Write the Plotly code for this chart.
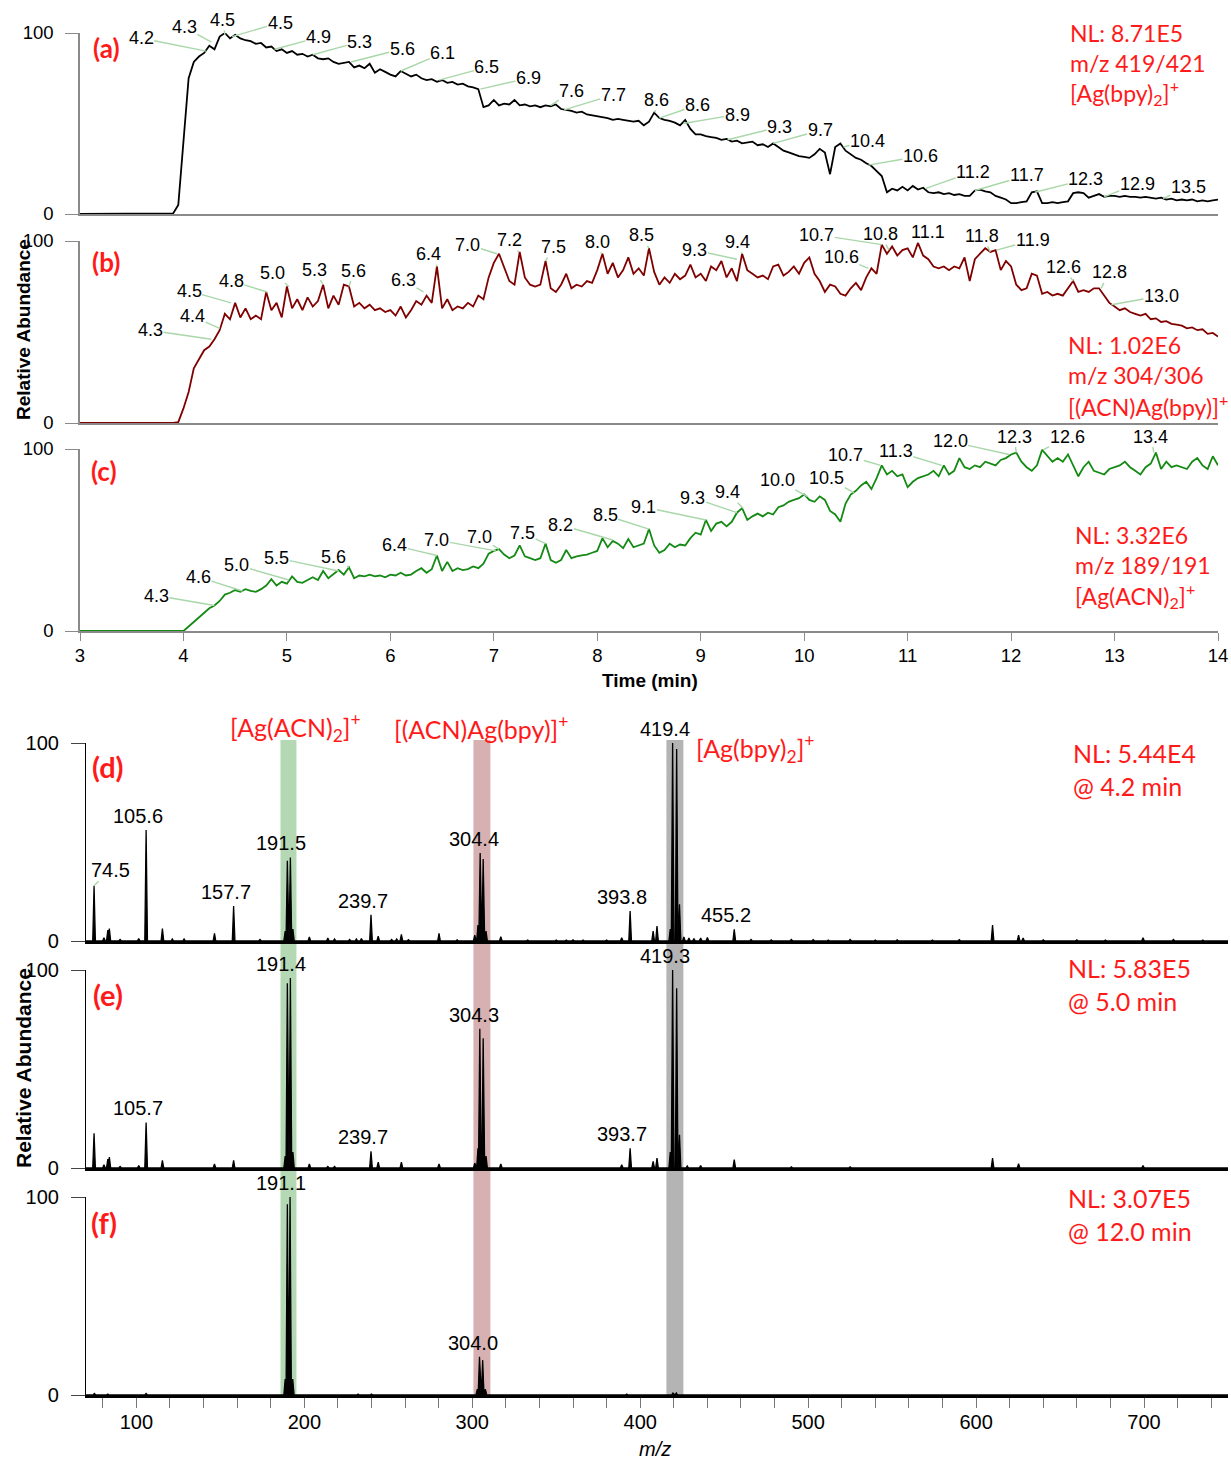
import plotly.graph_objects as go

W, H = 1231, 1460

# ---------------- chromatogram data (time in min, relative abundance) ----------------
time_min = [
    3.00, 3.50, 3.90, 3.95,
    4.00, 4.05, 4.10, 4.15, 4.20, 4.25, 4.30, 4.35, 4.40, 4.45, 4.50, 4.55, 4.60, 4.65, 4.70, 4.75, 4.80, 4.85, 4.90, 4.95,
    5.00, 5.05, 5.10, 5.15, 5.20, 5.25, 5.30, 5.35, 5.40, 5.45, 5.50, 5.55, 5.60, 5.65, 5.70, 5.75, 5.80, 5.85, 5.90, 5.95,
    6.00, 6.05, 6.10, 6.15, 6.20, 6.25, 6.30, 6.35, 6.40, 6.45, 6.50, 6.55, 6.60, 6.65, 6.70, 6.75, 6.80, 6.85, 6.90, 6.95,
    7.00, 7.05, 7.10, 7.15, 7.20, 7.25, 7.30, 7.35, 7.40, 7.45, 7.50, 7.55, 7.60, 7.65, 7.70, 7.75, 7.80, 7.85, 7.90, 7.95,
    8.00, 8.05, 8.10, 8.15, 8.20, 8.25, 8.30, 8.35, 8.40, 8.45, 8.50, 8.55, 8.60, 8.65, 8.70, 8.75, 8.80, 8.85, 8.90, 8.95,
    9.00, 9.05, 9.10, 9.15, 9.20, 9.25, 9.30, 9.35, 9.40, 9.45, 9.50, 9.55, 9.60, 9.65, 9.70, 9.75, 9.80, 9.85, 9.90, 9.95,
    10.00, 10.05, 10.10, 10.15, 10.20, 10.25, 10.30, 10.35, 10.40, 10.45, 10.50, 10.55, 10.60, 10.65, 10.70, 10.75, 10.80, 10.85, 10.90, 10.95,
    11.00, 11.05, 11.10, 11.15, 11.20, 11.25, 11.30, 11.35, 11.40, 11.45, 11.50, 11.55, 11.60, 11.65, 11.70, 11.75, 11.80, 11.85, 11.90, 11.95,
    12.00, 12.05, 12.10, 12.15, 12.20, 12.25, 12.30, 12.35, 12.40, 12.45, 12.50, 12.55, 12.60, 12.65, 12.70, 12.75, 12.80, 12.85, 12.90, 12.95,
    13.00, 13.05, 13.10, 13.15, 13.20, 13.25, 13.30, 13.35, 13.40, 13.45, 13.50, 13.55, 13.60, 13.65, 13.70, 13.75, 13.80, 13.85, 13.90, 13.95,
    14.00,
]

abund_a = [
    0, 0, 0.3, 5,
    40, 75, 84, 87, 89, 93, 91, 98, 100, 97, 99, 97, 96, 95.5, 94, 94.5, 92, 92.5, 90, 91,
    89, 90, 88, 88.5, 87, 88, 86, 85.5, 86, 84, 83, 83.5, 84, 81, 82, 80.5, 83, 78, 80, 78.5,
    77, 76, 79, 77.5, 76, 77, 75, 74, 74.5, 73, 74, 72.5, 73, 71.5, 72, 70.5, 70, 69, 59, 60,
    63, 60, 61, 60.5, 63, 60, 60.5, 59.5, 60, 59, 60, 59.5, 60.5, 58, 57.5, 57, 56, 56.5, 55, 54.5,
    54, 53.5, 53, 52, 52.5, 52, 51.5, 51, 51.5, 49, 51, 56, 53, 52, 51.5, 50.5, 49, 52, 47, 44,
    44, 43, 42.5, 42, 41, 41.5, 40, 40.5, 39, 39.5, 40, 38, 38.5, 37, 39, 37, 35, 34, 33, 32,
    31.5, 31, 33, 36, 34, 22, 37, 39, 35, 33, 31, 30, 28, 26.5, 24, 21, 12, 14, 13, 15,
    13, 15.5, 13.5, 14.5, 12, 11.5, 12, 11, 11.5, 10.5, 11, 10, 10, 13, 13.5, 12.5, 12, 10, 9, 8,
    6, 6, 6.5, 7, 12, 12.5, 6, 6, 6.5, 6, 6.5, 7, 11.5, 12, 11.5, 9, 10, 11, 9.5, 10,
    10, 9.5, 10, 9.5, 9.5, 9, 9.5, 9, 8.5, 9, 8, 8.5, 7.5, 8, 7.5, 8, 7, 7.5, 7, 7.5,
    8,
]

abund_b = [
    0, 0, 0, 0.5,
    8, 17, 30, 35, 40, 42, 46, 51, 60, 57, 66, 58, 63, 57, 59, 57, 72, 62, 66, 58,
    75, 63, 68, 62, 69, 64, 67, 76, 63, 70, 65, 76, 75, 64, 66, 63, 65, 62, 63, 61,
    62, 59, 64, 58, 62, 67, 65, 70, 66, 86, 63, 68, 62, 64, 63, 66, 64, 70, 68, 80,
    88, 93, 86, 78, 76, 94, 80, 76, 75, 76, 89, 74, 72, 76, 82, 74, 76, 75, 78, 77,
    84, 93, 82, 88, 80, 84, 91, 82, 85, 81, 96, 83, 76, 80, 77, 82, 79, 81, 87, 80,
    82, 78, 86, 84, 89, 80, 85, 78, 93, 84, 82, 80, 81, 79, 86, 87, 81, 83, 86, 82,
    88, 91, 82, 78, 72, 76, 75, 71, 70, 74, 77, 73, 80, 85, 82, 98, 93, 97, 92, 95,
    96, 91, 99, 92, 90, 86, 85, 86, 84, 86, 85, 91, 78, 90, 93, 96, 94, 95, 84, 89,
    86, 76, 73, 74, 82, 81, 71, 72, 70, 71, 70, 74, 78, 72, 73, 72, 74, 74, 70, 66,
    64, 62, 63, 61, 60, 59, 60, 57, 57.5, 55.5, 56, 54.5, 54, 53.5, 52, 52.5, 51, 51.5, 49, 49.5,
    47.5,
]

abund_c = [
    0, 0, 0, 0,
    0, 2.5, 5, 7, 10, 12.5, 14, 16.5, 20, 21, 22.5, 21.5, 23, 22, 21.5, 23, 25, 28.5, 25, 27,
    26, 30, 27, 26.5, 28, 29.5, 28, 33, 29, 31.5, 33.5, 31, 35, 29, 30.5, 30, 31, 30, 30.5, 29.5,
    31, 30.5, 32, 30.5, 31, 33, 34.5, 32, 34, 41.5, 33, 38, 33, 34.5, 33.5, 34, 35.5, 34.5, 37, 42.5,
    44, 45, 42, 40, 41.5, 47, 41, 40, 39, 40, 48, 39, 37.5, 39, 44.5, 40, 41, 41.5, 42, 43,
    44, 51, 46, 49.5, 48, 45.5, 50.5, 46, 47, 48, 56, 47, 43, 44.5, 48, 46, 47.5, 47, 51, 54,
    53, 61, 55, 59, 60, 57.5, 60, 65, 67.5, 61, 63, 64.5, 63, 65, 64, 68, 69, 71, 72, 73,
    75, 72, 71, 74, 72, 66, 64, 60, 70, 75, 77, 80, 82, 78, 84, 91, 86, 88, 85, 86,
    79, 82, 84, 85, 86, 88, 85, 91, 86, 88, 95, 90, 89, 91, 90, 93, 92, 91, 94, 95,
    97, 98, 93, 90, 88, 91, 99.5, 96, 93, 95, 93, 97, 91, 85, 90, 93, 88, 87, 86, 89,
    90, 91, 93, 90, 88, 86, 90, 92, 98, 89, 93, 90, 91, 90, 89, 93, 95, 91, 89, 96,
    91,
]

# peak labels of the chromatograms (label text, retention time, abundance at that point)
labels_a = ["4.2", "4.3", "4.5", "4.5", "4.9", "5.3", "5.6", "6.1", "6.5", "6.9", "7.6", "7.7", "8.6", "8.6",
            "8.9", "9.3", "9.7", "10.4", "10.6", "11.2", "11.7", "12.3", "12.9", "13.5"]
label_t_a = [4.22, 4.27, 4.40, 4.47, 4.88, 5.25, 5.62, 6.10, 6.47, 6.87, 7.55, 7.68, 8.56, 8.60,
             8.83, 9.26, 9.70, 10.38, 10.62, 11.17, 11.65, 12.23, 12.90, 13.47]
label_v_a = [90, 95, 99, 98, 91, 88, 84, 79, 74, 69, 60, 57.5, 56, 53,
             50, 41, 39, 37, 27, 14, 13, 12, 9.5, 8.5]

labels_b = ["4.3", "4.4", "4.5", "4.8", "5.0", "5.3", "5.6", "6.3", "6.4", "7.0", "7.2", "7.5", "8.0", "8.5",
            "9.3", "9.4", "10.7", "10.8", "11.1", "10.6", "11.8", "11.9", "12.6", "12.8", "13.0"]
label_t_b = [4.27, 4.35, 4.46, 4.81, 5.02, 5.35, 5.60, 6.32, 6.45, 7.03, 7.24, 7.50, 8.04, 8.50,
             9.35, 9.40, 10.75, 10.82, 11.10, 10.62, 11.80, 11.86, 12.60, 12.87, 12.97]
label_v_b = [46, 52, 66, 72, 75, 76, 75, 72, 86, 93, 94, 89, 93, 96,
             90, 93, 98, 95, 99, 85, 94, 95, 78, 74, 65]

labels_c = ["4.3", "4.6", "5.0", "5.5", "5.6", "6.4", "7.0", "7.0", "7.5", "8.2", "8.5", "9.1", "9.3", "9.4",
            "10.0", "10.5", "10.7", "11.3", "12.0", "12.3", "12.6", "13.4"]
label_t_c = [4.30, 4.57, 5.02, 5.50, 5.60, 6.45, 7.02, 7.05, 7.50, 8.15, 8.50, 9.05, 9.35, 9.41,
             10.03, 10.48, 10.74, 11.33, 11.98, 12.05, 12.31, 13.38]
label_v_c = [14, 22, 28, 33, 35, 41.5, 44, 45, 48, 50, 56, 61, 65, 67.5,
             74, 76, 91, 91, 97, 98, 99.5, 98]

# ---------------- mass spectra data (m/z, relative abundance) ----------------
mz_d = [74.8, 80.7, 83.0, 83.9, 90.3, 101.4, 105.8, 115.5, 121.4, 128.4, 146.5, 157.9, 173.6, 188.6, 189.9,
        191.7, 193.2, 203.0, 214.0, 218.0, 227.0, 231.0, 234.0, 239.7, 244.0, 252.0, 255.0, 257.8, 262.0,
        280.2, 291.0, 301.5, 303.4, 304.7, 306.5, 308.2, 317.0, 333.0, 350.0, 356.0, 360.0, 366.0, 380.0,
        389.0, 394.0, 407.7, 410.0, 417.9, 419.3, 421.7, 423.4, 426.0, 429.0, 432.0, 436.0, 440.0, 456.0,
        466.0, 478.0, 490.0, 503.0, 512.0, 525.0, 540.0, 553.0, 574.0, 590.0, 609.8, 625.3, 628.0, 640.0,
        660.0, 677.0, 699.4, 717.5, 735.0]
int_d = [27.9, 1.7, 5.5, 6.3, 0.8, 1.2, 56.0, 6.3, 1.0, 1.0, 3.9, 17.7, 0.8, 5.0, 40.5,
         42.2, 6.0, 2.0, 1.5, 1.0, 0.8, 1.0, 1.2, 13.2, 2.5, 0.8, 1.0, 3.4, 0.7,
         3.9, 0.6, 2.9, 8.0, 44.4, 41.4, 5.0, 2.2, 0.5, 0.5, 0.5, 0.6, 0.5, 0.5,
         1.7, 15.1, 5.0, 7.6, 6.0, 100.0, 97.0, 18.6, 2.0, 1.5, 1.2, 1.5, 1.8, 5.9,
         0.8, 0.6, 0.8, 0.7, 0.5, 0.8, 0.5, 0.6, 0.5, 0.7, 8.1, 2.9, 1.5, 0.6,
         0.6, 0.5, 1.7, 0.8, 0.5]

mz_e = [74.8, 80.7, 83.0, 83.9, 90.3, 101.4, 105.8, 115.5, 146.5, 157.9, 188.6, 189.9, 191.7, 193.2, 203.0,
        214.0, 218.0, 239.7, 244.0, 257.8, 280.2, 301.5, 303.4, 304.5, 306.5, 308.2, 317.0, 389.0, 394.0,
        407.7, 410.0, 417.9, 419.3, 421.7, 423.4, 428.0, 436.0, 456.0, 490.0, 525.0, 609.8, 625.3, 699.4]
int_e = [17.6, 1.7, 4.5, 5.5, 0.8, 1.2, 23.0, 3.9, 2.0, 3.9, 6.0, 93.3, 96.0, 8.0, 2.0,
         0.8, 0.8, 8.4, 3.0, 2.9, 2.0, 2.5, 10.0, 70.3, 65.5, 6.0, 2.0, 1.7, 10.0,
         3.4, 5.0, 8.0, 100.0, 90.8, 16.8, 1.0, 1.2, 4.2, 0.6, 0.6, 5.0, 2.2, 1.2]

mz_f = [75.0, 83.0, 105.8, 188.6, 189.9, 191.5, 193.1, 232.0, 240.0, 303.0, 304.3, 306.2, 307.8, 392.0, 419.5, 421.5]
int_f = [0.8, 0.5, 0.8, 8.0, 96.3, 100.0, 8.0, 0.5, 0.5, 3.0, 19.3, 17.6, 3.0, 0.5, 1.0, 1.0]

spec_labels_d = ["74.5", "105.6", "157.7", "191.5", "239.7", "304.4", "393.8", "419.4", "455.2"]
spec_label_mz_d = [74.8, 105.8, 157.9, 191.0, 239.7, 305.5, 394.0, 419.3, 456.0]
spec_label_int_d = [27.9, 56.0, 17.7, 42.2, 13.2, 44.4, 15.1, 100.0, 5.9]

spec_labels_e = ["105.7", "191.4", "239.7", "304.3", "393.7", "419.3"]
spec_label_mz_e = [105.8, 191.0, 239.7, 305.5, 394.0, 419.3]
spec_label_int_e = [23.0, 96.0, 8.4, 70.3, 10.0, 100.0]

spec_labels_f = ["191.1", "304.0"]
spec_label_mz_f = [191.0, 305.0]
spec_label_int_f = [100.0, 19.3]

# highlighted ion windows (m/z ranges)
band_ranges = [(185.8, 195.3), (300.7, 310.8), (415.6, 425.7)]
band_colors = ["#b3d8b3", "#d7b1b1", "#b4b4b4"]

# ---------------- layout helpers (pixel positions of the reference) ----------------
def pxx(x):
    return x / W


def pxy(y):
    return 1 - y / H


# text offsets (pixels) of chromatogram labels relative to the marked point
offs_a = [(-65, -13), (-27, -15), (-2, -15), (48, -14), (44, -12), (47, -13), (51, -13), (42, -18), (48, -13),
          (48, -11), (21, -14), (49, -15), (1, -13), (38, -13), (54, -9), (52, -13), (47, -13), (24, -6),
          (52, -9), (48, -17), (52, -15), (51, -13), (33, -13), (25, -12)]
offs_b = [(-61, -9), (-27, -12), (-42, -12), (-36, -11), (-16, -14), (-9, -15), (5, -16), (-20, -12), (-8, -12),
          (-29, -9), (-9, -12), (8, -14), (-4, -12), (-8, -13), (-42, -9), (-5, -12), (-65, -10), (-9, -16),
          (10, -11), (-27, -11), (-8, -16), (36, -10), (-10, -14), (8, -16), (50, -9)]
offs_c = [(-58, -10), (-44, -14), (-52, -15), (-62, -13), (-15, -10), (-42, -10), (-59, -11), (-19, -12),
          (-23, -11), (-52, -15), (-44, -14), (-62, -13), (-44, -15), (-16, -16), (-30, -16), (-27, -15),
          (-35, -10), (-46, -14), (-59, -13), (-2, -16), (24, -13), (-3, -16)]

FONT = "Liberation Sans, Arial, sans-serif"
RED_FONT = "Lato, Noto Sans, sans-serif"
GRAY = "#8a8a8a"
LEADER = "#a9d7a9"
RED = "#ff1a1a"

fig = go.Figure()

# chromatogram traces
for data, color, ax_id in [(abund_a, "#000000", ""), (abund_b, "#800000", "2"), (abund_c, "#148a14", "3")]:
    fig.add_trace(go.Scatter(x=time_min, y=data, mode="lines", line=dict(color=color, width=1.8),
                             xaxis="x" + ax_id, yaxis="y" + ax_id, showlegend=False, hoverinfo="skip"))


def profile(mz, inten, hw=0.8):
    xs, ys = [70.0], [0.0]
    for m, i in sorted(zip(mz, inten)):
        xs += [m - hw, m, m + hw]
        ys += [0.0, i, 0.0]
    xs.append(750.0)
    ys.append(0.0)
    return xs, ys


for mz, inten, ax_id in [(mz_d, int_d, "4"), (mz_e, int_e, "5"), (mz_f, int_f, "6")]:
    xs, ys = profile(mz, inten)
    fig.add_trace(go.Scatter(x=xs, y=ys, mode="lines", line=dict(color="black", width=1.3),
                             fill="tozeroy", fillcolor="black",
                             xaxis="x" + ax_id, yaxis="y" + ax_id, showlegend=False, hoverinfo="skip"))

# axes
chrom_x = [pxx(80), pxx(1218)]
spec_x = [pxx(86), pxx(1228)]
ydom = {
    "": [pxy(214), pxy(33)],
    "2": [pxy(423), pxy(241)],
    "3": [pxy(631), pxy(449)],
    "4": [pxy(941), pxy(743)],
    "5": [pxy(1168), pxy(970)],
    "6": [pxy(1395), pxy(1197)],
}

layout = dict(
    width=W, height=H, autosize=False,
    margin=dict(l=0, r=0, t=0, b=0, pad=0, autoexpand=False),
    paper_bgcolor="white", plot_bgcolor="rgba(0,0,0,0)",
    showlegend=False,
    font=dict(family=FONT, color="black", size=18),
)

for ax_id in ["", "2", "3"]:
    xa = dict(domain=chrom_x, range=[3, 14], anchor="y" + ax_id, showline=True, linecolor=GRAY, linewidth=1.5,
              showgrid=False, zeroline=False, ticks="", showticklabels=False, automargin=False)
    if ax_id == "3":
        xa.update(ticks="outside", ticklen=8, tickwidth=1.3, tickcolor=GRAY, showticklabels=True,
                  tickvals=[3, 4, 5, 6, 7, 8, 9, 10, 11, 12, 13, 14], tickfont=dict(size=18.5, family=FONT),
                  ticklabelstandoff=-1)
    layout["xaxis" + ax_id] = xa
    layout["yaxis" + ax_id] = dict(domain=ydom[ax_id], range=[0, 100], anchor="x" + ax_id, showline=True,
                                   linecolor=GRAY, linewidth=1.5, showgrid=False, zeroline=False,
                                   tickvals=[0, 100], ticks="outside", ticklen=13, tickwidth=1.3, tickcolor=GRAY,
                                   tickfont=dict(size=18.5, family=FONT), ticklabelstandoff=8, automargin=False)

for ax_id in ["4", "5", "6"]:
    xa = dict(domain=spec_x, range=[70, 750], anchor="y" + ax_id, showline=True, linecolor="black", linewidth=2.5,
              showgrid=False, zeroline=False, ticks="", showticklabels=False, automargin=False)
    if ax_id == "6":
        xa.update(ticks="outside", ticklen=10, tickwidth=1.2, tickcolor="#777777", showticklabels=True,
                  tickvals=[100, 200, 300, 400, 500, 600, 700], tickfont=dict(size=20, family=FONT),
                  ticklabelstandoff=-3,
                  minor=dict(ticks="outside", tickmode="linear", tick0=0, dtick=20, ticklen=10, tickwidth=1.2,
                             tickcolor="#777777", showgrid=False))
    layout["xaxis" + ax_id] = xa
    layout["yaxis" + ax_id] = dict(domain=ydom[ax_id], range=[0, 100], anchor="x" + ax_id, showline=True,
                                   linecolor="black", linewidth=1.2, showgrid=False, zeroline=False,
                                   tickvals=[0, 100], ticks="outside", ticklen=14, tickwidth=1.2,
                                   tickcolor="#444444", tickfont=dict(size=20, family=FONT),
                                   ticklabelstandoff=8, automargin=False)

fig.update_layout(**layout)

# highlight bands across the three spectra
for (lo, hi), col in zip(band_ranges, band_colors):
    fig.add_shape(type="rect", xref="x4", yref="paper", x0=lo, x1=hi, y0=pxy(1395), y1=pxy(740),
                  fillcolor=col, line=dict(width=0), layer="below")

annotations = []

# chromatogram peak labels with green leader lines
for labels, ts, vs, offs, ax_id in [(labels_a, label_t_a, label_v_a, offs_a, ""),
                                    (labels_b, label_t_b, label_v_b, offs_b, "2"),
                                    (labels_c, label_t_c, label_v_c, offs_c, "3")]:
    for txt, t, v, (dx, dy) in zip(labels, ts, vs, offs):
        annotations.append(dict(x=t, y=v, xref="x" + ax_id, yref="y" + ax_id, text=txt, showarrow=True,
                                ax=dx, ay=dy, arrowhead=0, arrowwidth=1.4, arrowcolor=LEADER, standoff=0,
                                borderpad=0, font=dict(size=18, family=FONT, color="black")))

# spectra peak labels
for labels, mzs, ints, ax_id in [(spec_labels_d, spec_label_mz_d, spec_label_int_d, "4"),
                                 (spec_labels_e, spec_label_mz_e, spec_label_int_e, "5"),
                                 (spec_labels_f, spec_label_mz_f, spec_label_int_f, "6")]:
    for txt, m, i in zip(labels, mzs, ints):
        if txt == "74.5":
            annotations.append(dict(x=m, y=i, xref="x" + ax_id, yref="y" + ax_id, text=txt, showarrow=True,
                                    ax=16, ay=-16, arrowhead=0, arrowwidth=1.4, arrowcolor=LEADER, standoff=0,
                                    borderpad=0, font=dict(size=20, family=FONT, color="black")))
        else:
            annotations.append(dict(x=m, y=i, xref="x" + ax_id, yref="y" + ax_id, text=txt, showarrow=False,
                                    xshift=-8, yshift=14, yanchor="middle",
                                    font=dict(size=20, family=FONT, color="black")))

# panel letters
for txt, x, y, size in [("(a)", 106, 48, 26), ("(b)", 106, 262, 26), ("(c)", 104, 471, 26),
                        ("(d)", 108, 766, 29), ("(e)", 108, 994, 29), ("(f)", 104, 1222, 29)]:
    annotations.append(dict(x=pxx(x), y=pxy(y), xref="paper", yref="paper", text="<b>" + txt + "</b>",
                            showarrow=False, xanchor="center", yanchor="middle",
                            font=dict(size=size, family=RED_FONT, color=RED)))

# red info texts (left aligned)
red_lines = [
    ("NL: 8.71E5", 1068, 33, 23), ("m/z 419/421", 1068, 63, 23),
    ("[Ag(bpy)<sub>2</sub>]<sup>+</sup>", 1068, 93, 23),
    ("NL: 1.02E6", 1066, 345, 23), ("m/z 304/306", 1066, 375, 23),
    ("[(ACN)Ag(bpy)]<sup>+</sup>", 1066, 405, 23),
    ("NL: 3.32E6", 1073, 535, 23), ("m/z 189/191", 1073, 565, 23),
    ("[Ag(ACN)<sub>2</sub>]<sup>+</sup>", 1073, 595, 23),
    ("NL: 5.44E4", 1071, 753, 25), ("@ 4.2 min", 1071, 786, 25),
    ("NL: 5.83E5", 1066, 968, 25), ("@ 5.0 min", 1066, 1001, 25),
    ("NL: 3.07E5", 1066, 1198, 25), ("@ 12.0 min", 1066, 1231, 25),
    ("[Ag(bpy)<sub>2</sub>]<sup>+</sup>", 694, 748, 25),
]
for txt, x, y, size in red_lines:
    annotations.append(dict(x=pxx(x), y=pxy(y), xref="paper", yref="paper", text=txt, showarrow=False,
                            xanchor="left", yanchor="middle", font=dict(size=size, family=RED_FONT, color=RED)))

for txt, x, y in [("[Ag(ACN)<sub>2</sub>]<sup>+</sup>", 295, 728), ("[(ACN)Ag(bpy)]<sup>+</sup>", 481, 728)]:
    annotations.append(dict(x=pxx(x), y=pxy(y), xref="paper", yref="paper", text=txt, showarrow=False,
                            xanchor="center", yanchor="middle", font=dict(size=25, family=RED_FONT, color=RED)))

# axis titles
annotations.append(dict(x=pxx(23), y=pxy(330), xref="paper", yref="paper", text="<b>Relative Abundance</b>",
                        textangle=-90, showarrow=False, xanchor="center", yanchor="middle",
                        font=dict(size=19, family=FONT, color="black")))
annotations.append(dict(x=pxx(23), y=pxy(1068), xref="paper", yref="paper", text="<b>Relative Abundance</b>",
                        textangle=-90, showarrow=False, xanchor="center", yanchor="middle",
                        font=dict(size=21, family=FONT, color="black")))
annotations.append(dict(x=pxx(650), y=pxy(680), xref="paper", yref="paper", text="<b>Time (min)</b>",
                        showarrow=False, xanchor="center", yanchor="middle",
                        font=dict(size=19, family=FONT, color="black")))
annotations.append(dict(x=pxx(655), y=pxy(1449), xref="paper", yref="paper", text="<i>m/z</i>",
                        showarrow=False, xanchor="center", yanchor="middle",
                        font=dict(size=20, family=FONT, color="black")))

fig.update_layout(annotations=annotations)

fig.write_html("out.html")
